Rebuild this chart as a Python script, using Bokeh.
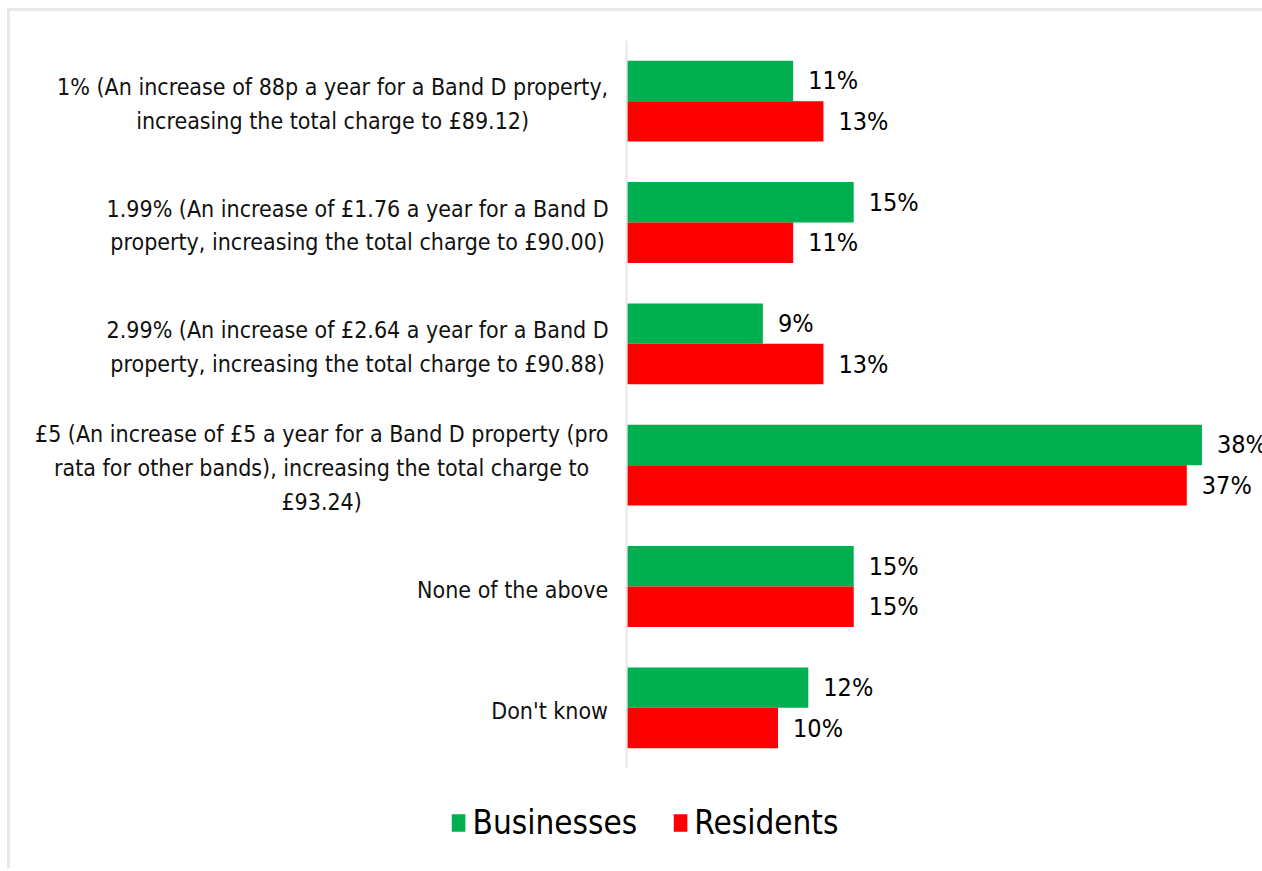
from bokeh.plotting import figure
from bokeh.layouts import column
from bokeh.models import ColumnDataSource, FactorRange, Range1d, Legend, LegendItem, Span
from bokeh.transform import dodge
from bokeh.core.properties import value
from bokeh.embed import file_html
from bokeh.resources import INLINE

categories = [
    "1% (An increase of 88p a year for a Band D property,\nincreasing the total charge to £89.12)",
    "1.99% (An increase of £1.76 a year for a Band D\nproperty, increasing the total charge to £90.00)",
    "2.99% (An increase of £2.64 a year for a Band D\nproperty, increasing the total charge to £90.88)",
    "£5 (An increase of £5 a year for a Band D property (pro\nrata for other bands), increasing the total charge to\n£93.24)",
    "None of the above",
    "Don't know",
]
series_names = ["Businesses", "Residents"]
businesses = [11, 15, 9, 38, 15, 12]
residents = [13, 11, 13, 37, 15, 10]

# style: horizontal offset (px) of each centred label block from the value axis
label_centre_offsets = [-294, -269, -269, -305, -114, -77]

FONT = "DejaVu Sans Condensed"
GREEN = "#00b050"
RED = "#ff0000"

src = ColumnDataSource(dict(
    cat=categories,
    b=businesses,
    r=residents,
    bl=[f"{v}%" for v in businesses],
    rl=[f"{v}%" for v in residents],
    off=label_centre_offsets,
))

factors = list(reversed(categories))
p = figure(
    width=1252, height=767,
    y_range=FactorRange(factors=factors, range_padding=0),
    x_range=Range1d(-39.64, 42.0),
    output_backend="svg", toolbar_location=None,
    min_border_left=16, min_border_right=0, min_border_top=29, min_border_bottom=10,
)

gb = p.hbar(y=dodge("cat", 1/6, range=p.y_range), left=0, right="b", height=1/3,
            fill_color=GREEN, line_color=None, source=src)
gr = p.hbar(y=dodge("cat", -1/6, range=p.y_range), left=0, right="r", height=1/3,
            fill_color=RED, line_color=None, source=src)

p.text(x="b", y=dodge("cat", 1/6, range=p.y_range), text="bl", x_offset=15,
       text_baseline="middle", text_align="left", text_font=value(FONT),
       text_font_size="25px", text_color="black", source=src)
p.text(x="r", y=dodge("cat", -1/6, range=p.y_range), text="rl", x_offset=15,
       text_baseline="middle", text_align="left", text_font=value(FONT),
       text_font_size="25px", text_color="black", source=src)

# category labels beside the value axis (lines centred within each block)
p.text(x=0, y="cat", text="cat", x_offset="off", y_offset=3, text_align="center",
       text_baseline="middle", text_font=value(FONT), text_font_size="23px",
       text_color="#111111", text_line_height=1.3, source=src)

# value axis line at zero
p.add_layout(Span(location=0, dimension="height", line_color="#e8e8e8", line_width=2))

p.xaxis.visible = False
p.yaxis.visible = False
p.xgrid.visible = False
p.ygrid.visible = False
p.outline_line_color = None

# legend row (shares ranges and data with the main chart; its swatch renderers are hidden)
p2 = figure(width=1252, height=90, x_range=p.x_range, y_range=p.y_range,
            output_backend="svg", toolbar_location=None,
            min_border_left=16, min_border_right=0, min_border_top=0, min_border_bottom=2)
p2.axis.visible = False
p2.grid.visible = False
p2.outline_line_color = None
lb = p2.hbar(y=dodge("cat", 1/6, range=p.y_range), left=0, right="b", height=1/3,
             fill_color=GREEN, line_color=None, source=src, visible=False)
lr = p2.hbar(y=dodge("cat", -1/6, range=p.y_range), left=0, right="r", height=1/3,
             fill_color=RED, line_color=None, source=src, visible=False)

legend = Legend(
    items=[LegendItem(label=series_names[0], renderers=[lb]),
           LegendItem(label=series_names[1], renderers=[lr])],
    orientation="horizontal", location="center",
    label_text_font=FONT, label_text_font_size="33px", label_text_color="black",
    glyph_width=17, glyph_height=22, spacing=34, padding=0, margin=0,
    label_standoff=6, border_line_color=None, background_fill_alpha=0,
    inactive_fill_alpha=0,
)
p2.add_layout(legend, "center")

layout = column(p, p2, spacing=0)
layout.styles = {"margin-left": "7px", "margin-top": "8px",
                 "border-top": "3px solid #e8e8e8", "border-left": "3px solid #e8e8e8"}

open("out.html", "w").write(file_html(layout, INLINE))
